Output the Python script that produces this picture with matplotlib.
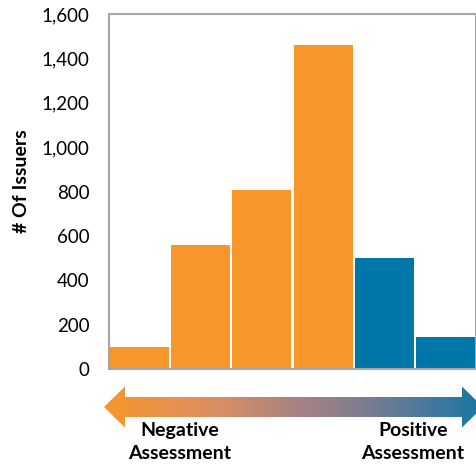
import numpy as np
import matplotlib
matplotlib.use("Agg")
import matplotlib.pyplot as plt
from matplotlib.patches import Polygon
from matplotlib.colors import LinearSegmentedColormap

# Issuer counts per assessment bucket, from most negative to most positive
buckets = ["1", "2", "3", "4", "5", "6"]
issuers = [100, 560, 805, 1460, 500, 145]
bar_colors = ["#F7962B", "#F7962B", "#F7962B", "#F7962B", "#0077A8", "#0077A8"]
yticks = [0, 200, 400, 600, 800, 1000, 1200, 1400, 1600]
scale_left = "Negative\nAssessment"
scale_right = "Positive\nAssessment"

plt.rcParams["font.family"] = ["Lato", "DejaVu Sans"]

W, H = 477, 465
fig = plt.figure(figsize=(W / 100, H / 100), dpi=100)

ax = fig.add_axes([109 / W, 1 - 369 / H, (476 - 109) / W, (369 - 14) / H])
x = np.arange(len(buckets))
ax.bar(x, issuers, width=0.965, color=bar_colors, zorder=2)
ax.set_xlim(-0.5, len(buckets) - 0.5)
ax.set_ylim(0, 1600)
ax.set_yticks(yticks)
ax.set_yticklabels([f"{v:,}" for v in yticks], fontsize=13.5)
ax.tick_params(axis="y", length=0, pad=14)
ax.set_xticks([])
for s in ax.spines.values():
    s.set_color("#A6A6A6")
    s.set_linewidth(1.5)

fig.text(22 / W, 1 - 181 / H, "# Of Issuers", rotation=90, ha="center", va="center",
         fontsize=14, fontweight="bold")

# Double-headed gradient arrow below the chart
aax = fig.add_axes([100 / W, 1 - 432 / H, (W - 100) / W, 50 / H])
aax.set_xlim(100, W)
aax.set_ylim(432, 382)
aax.axis("off")
arrow = Polygon([(104, 407), (125, 386.5), (125, 397), (462, 397), (462, 386.5),
                 (483, 407), (462, 427.5), (462, 417), (125, 417), (125, 427.5)],
                closed=True, facecolor="none", edgecolor="none")
aax.add_patch(arrow)
cmap = LinearSegmentedColormap.from_list("scale", [
    (0.0, (247 / 255, 150 / 255, 43 / 255)),
    (0.3, (218 / 255, 142 / 255, 100 / 255)),
    (0.5, (168 / 255, 131 / 255, 128 / 255)),
    (0.68, (128 / 255, 125 / 255, 145 / 255)),
    (1.0, (25 / 255, 118 / 255, 165 / 255)),
])
grad = np.linspace(0, 1, 256).reshape(1, -1)
img = aax.imshow(grad, cmap=cmap, aspect="auto", extent=(104, 483, 428, 386),
                 interpolation="bilinear")
img.set_clip_path(arrow)

fig.text(180 / W, 1 - 442 / H, scale_left, ha="center", va="center", fontsize=14,
         fontweight="bold", linespacing=1.45)
fig.text(413 / W, 1 - 442 / H, scale_right, ha="center", va="center", fontsize=14,
         fontweight="bold", linespacing=1.45)

fig.savefig("out.png", dpi=100)
